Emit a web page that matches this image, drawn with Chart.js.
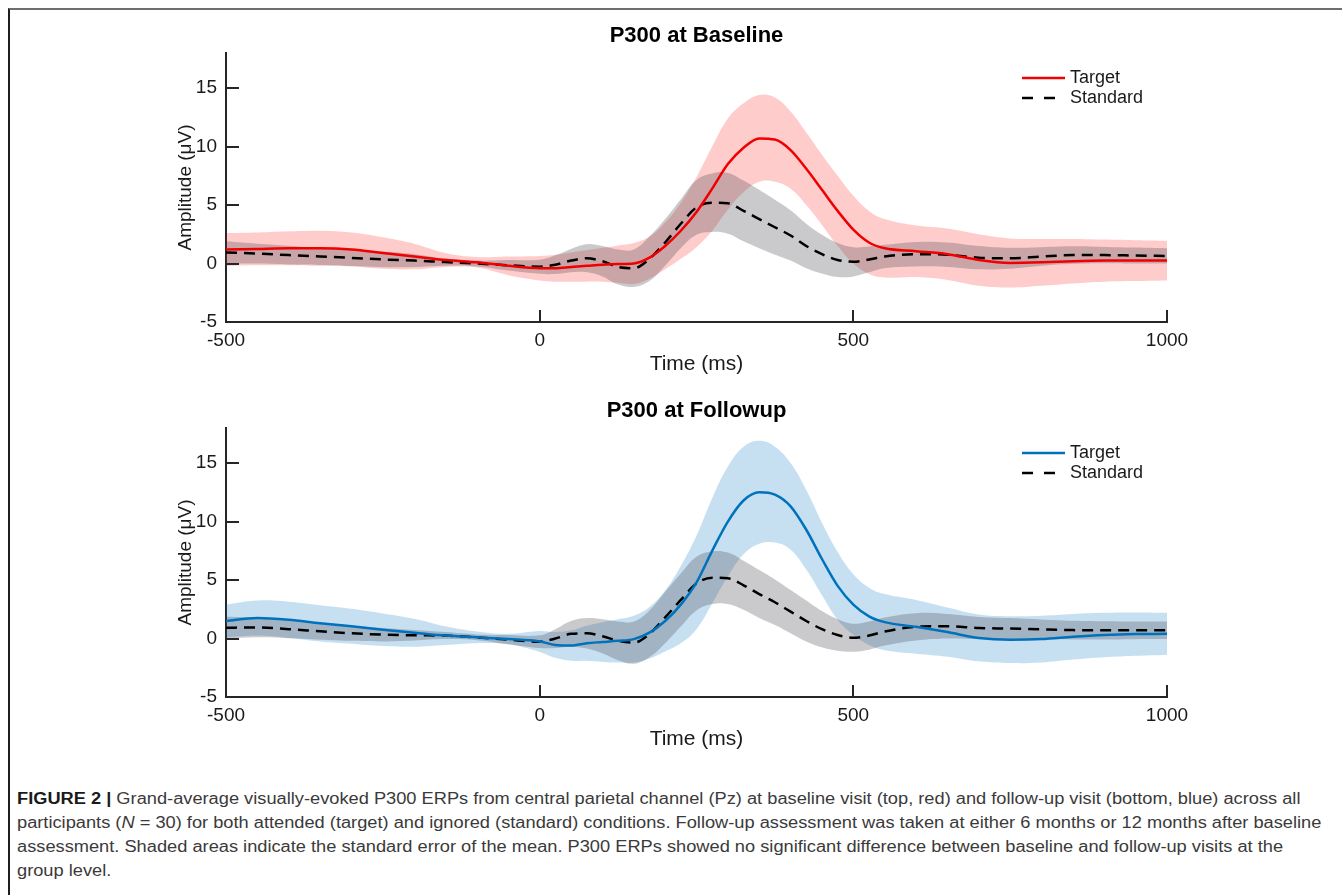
<!DOCTYPE html>
<html>
<head>
<meta charset="utf-8">
<script src="https://cdn.jsdelivr.net/npm/chart.js@4.4.1/dist/chart.umd.min.js"></script>
<style>
  body { margin: 0; background: #fff; width: 1342px; height: 895px; overflow: hidden; position: relative; }
  .frame { position: absolute; left: 8px; top: 8px; right: 0; bottom: 0; border-top: 2px solid #6e6e6e; border-left: 2px solid #1e1e1e; }
  canvas { position: absolute; left: 150px; }
  #baseChart { top: 15px; }
  #followChart { top: 390px; }
  .caption { position: absolute; left: 17px; top: 787px; font-family: "Liberation Sans", Arial, sans-serif; font-size: 16px; line-height: 24px; color: #3a3a3a; white-space: nowrap; transform: scaleX(1.14); transform-origin: 0 0; }
  .caption b { color: #1a1a1a; }
</style>
</head>
<body>
<div class="frame"></div>
<canvas id="baseChart" width="1050" height="375"></canvas>
<canvas id="followChart" width="1050" height="375"></canvas>
<div class="caption">
  <b>FIGURE 2 |</b> Grand-average visually-evoked P300 ERPs from central parietal channel (Pz) at baseline visit (top, red) and follow-up visit (bottom, blue) across all<br>
  participants (<i>N</i> = 30) for both attended (target) and ignored (standard) conditions. Follow-up assessment was taken at either 6 months or 12 months after baseline<br>
  assessment. Shaded areas indicate the standard error of the mean. P300 ERPs showed no significant difference between baseline and follow-up visits at the<br>
  group level.
</div>
<script>
// time points (ms) and tick values
const times = [-500, -450, -400, -350, -300, -250, -200, -150, -100, -50,
  0, 25, 50, 75, 100, 125, 150, 175, 200, 225,
  250, 275, 300, 325, 350, 375, 400, 425, 450, 475,
  500, 525, 550, 600, 650, 700, 750, 800, 850, 900,
  950, 1000];
const xTicks = [-500, 0, 500, 1000];
const yTicks = [-5, 0, 5, 10, 15];

// baseline visit (uV), mean and standard error
const baseTarget = [1.2, 1.25, 1.3, 1.3, 1.2, 0.9, 0.6, 0.3, 0.1, -0.2,
  -0.4, -0.4, -0.3, -0.2, -0.1, -0.05, 0.0, 0.5, 1.5, 2.8,
  4.4, 6.4, 8.5, 9.9, 10.7, 10.6, 9.7, 8.1, 6.3, 4.5,
  2.9, 1.8, 1.3, 1.05, 0.8, 0.3, 0.05, 0.1, 0.2, 0.25,
  0.25, 0.25];
const baseTargetSE = [1.4, 1.4, 1.45, 1.5, 1.45, 1.35, 1.1, 0.6, 0.45, 0.8,
  1.05, 1.15, 1.25, 1.35, 1.45, 1.6, 1.75, 1.8, 2.0, 2.4,
  3.0, 3.6, 3.9, 3.8, 3.7, 3.6, 3.3, 3.1, 3.0, 3.0,
  2.9, 2.7, 2.5, 2.2, 2.2, 2.2, 2.1, 2.0, 1.9, 1.8,
  1.75, 1.7];
const baseStandard = [0.95, 0.85, 0.72, 0.6, 0.48, 0.35, 0.25, 0.12, 0.0, -0.15,
  -0.27, -0.1, 0.25, 0.45, 0.2, -0.3, -0.4, 0.4, 1.8, 3.4,
  4.8, 5.2, 5.15, 4.5, 3.8, 3.1, 2.4, 1.5, 0.8, 0.3,
  0.15, 0.35, 0.6, 0.8, 0.75, 0.5, 0.45, 0.6, 0.72, 0.72,
  0.68, 0.65];
const baseStandardSE = [0.95, 0.85, 0.8, 0.72, 0.7, 0.67, 0.55, 0.3, 0.25, 0.45,
  0.6, 0.8, 1.0, 1.2, 1.3, 1.5, 1.6, 1.9, 2.0, 2.1,
  2.35, 2.5, 2.6, 2.6, 2.5, 2.35, 2.15, 1.9, 1.65, 1.45,
  1.25, 1.1, 1.0, 1.05, 1.05, 1.0, 0.9, 0.8, 0.75, 0.7,
  0.68, 0.65];

// follow-up visit (uV)
const followTarget = [1.5, 1.75, 1.6, 1.3, 1.05, 0.75, 0.5, 0.25, 0.1, -0.05,
  -0.25, -0.55, -0.6, -0.4, -0.3, -0.2, -0.05, 0.5, 1.5, 2.9,
  4.8, 7.5, 10.0, 11.8, 12.5, 12.3, 11.3, 9.3, 6.8, 4.5,
  2.9, 1.9, 1.4, 1.0, 0.55, 0.05, -0.1, -0.05, 0.15, 0.3,
  0.38, 0.4];
const followTargetSE = [1.4, 1.5, 1.55, 1.55, 1.5, 1.4, 1.2, 0.8, 0.5, 0.45,
  0.9, 1.1, 1.3, 1.5, 1.7, 1.85, 2.0, 2.2, 2.6, 3.3,
  4.0, 4.5, 4.7, 4.6, 4.4, 4.1, 3.7, 3.4, 3.1, 2.9,
  2.6, 2.45, 2.4, 2.3, 2.1, 2.0, 2.0, 2.0, 1.95, 1.9,
  1.85, 1.8];
const followStandard = [0.92, 0.95, 0.8, 0.62, 0.45, 0.33, 0.28, 0.25, 0.1, -0.1,
  -0.27, 0.0, 0.4, 0.45, 0.2, -0.2, -0.35, 0.4, 1.8, 3.3,
  4.7, 5.2, 5.15, 4.55, 3.8, 3.1, 2.3, 1.5, 0.8, 0.3,
  0.07, 0.25, 0.6, 1.0, 1.05, 0.9, 0.85, 0.78, 0.72, 0.7,
  0.7, 0.7];
const followStandardSE = [0.95, 0.85, 0.78, 0.72, 0.65, 0.58, 0.45, 0.3, 0.25, 0.4,
  0.55, 0.8, 1.1, 1.3, 1.45, 1.65, 1.8, 2.0, 2.2, 2.27,
  2.3, 2.25, 2.2, 2.1, 2.05, 1.95, 1.85, 1.75, 1.55, 1.35,
  1.2, 1.2, 1.2, 1.17, 1.05, 0.95, 0.9, 0.85, 0.8, 0.78,
  0.76, 0.75];

Chart.defaults.font.family = '"Liberation Sans", Arial, Helvetica, sans-serif';
Chart.defaults.color = '#262626';

const AXIS = '#262626';

const toPoints = (vals) => times.map((t, i) => ({ x: t, y: vals[i] }));

// MATLAB style inward tick marks
const inwardTicks = {
  id: 'inwardTicks',
  afterDraw(chart) {
    const { ctx, chartArea, scales } = chart;
    ctx.save();
    ctx.strokeStyle = AXIS;
    ctx.lineWidth = 2;
    ctx.beginPath();
    scales.x.ticks.forEach(t => {
      const px = Math.round(scales.x.getPixelForValue(t.value));
      ctx.moveTo(px, chartArea.bottom);
      ctx.lineTo(px, chartArea.bottom - 12);
    });
    scales.y.ticks.forEach(t => {
      const py = Math.round(scales.y.getPixelForValue(t.value));
      ctx.moveTo(chartArea.left, py);
      ctx.lineTo(chartArea.left + 13, py);
    });
    ctx.stroke();
    ctx.restore();
  }
};

// legend box in the upper right corner of the axes
const lineLegend = {
  id: 'lineLegend',
  afterDatasetsDraw(chart) {
    const { ctx, chartArea } = chart;
    const items = chart.data.datasets.filter(d => d.inLegend);
    const x = chartArea.right - 145;
    items.forEach((d, i) => {
      const y = chartArea.top + 25 + i * 20;
      ctx.save();
      ctx.strokeStyle = d.borderColor;
      ctx.lineWidth = d.borderWidth;
      ctx.setLineDash(d.borderDash ? [11, 11] : []);
      ctx.beginPath();
      ctx.moveTo(x, y);
      ctx.lineTo(x + 43, y);
      ctx.stroke();
      ctx.setLineDash([]);
      ctx.fillStyle = '#1a1a1a';
      ctx.font = '18px "Liberation Sans", Arial, sans-serif';
      ctx.textBaseline = 'middle';
      ctx.fillText(d.label, x + 48, y);
      ctx.restore();
    });
  }
};

function makeChart(id, title, lineColor, bandColor, target, targetSE, standard, standardSE) {
  const up = (m, s) => m.map((v, i) => v + s[i]);
  const down = (m, s) => m.map((v, i) => v - s[i]);
  const band = { borderWidth: 0, pointRadius: 0, tension: 0.4 };

  new Chart(document.getElementById(id), {
    type: 'line',
    data: {
      datasets: [
        { label: 'Target', inLegend: true, data: toPoints(target), borderColor: lineColor, borderWidth: 2.5,
          pointRadius: 0, fill: false, cubicInterpolationMode: 'monotone' },
        { label: 'Standard', inLegend: true, data: toPoints(standard), borderColor: '#000', borderWidth: 2.5,
          borderDash: [11, 7], pointRadius: 0, fill: false, cubicInterpolationMode: 'monotone' },
        // standard error bands
        { ...band, data: toPoints(up(standard, standardSE)), backgroundColor: 'rgba(60,60,70,0.27)', fill: 3 },
        { ...band, data: toPoints(down(standard, standardSE)), fill: false },
        { ...band, data: toPoints(up(target, targetSE)), backgroundColor: bandColor, fill: 5 },
        { ...band, data: toPoints(down(target, targetSE)), fill: false }
      ]
    },
    options: {
      responsive: false,
      animation: false,
      devicePixelRatio: 1,
      layout: { padding: { left: 0, right: 33, top: 0, bottom: 0 } },
      plugins: {
        legend: { display: false },
        tooltip: { enabled: false },
        title: {
          display: true,
          text: title,
          fullSize: false,
          color: '#000',
          font: { size: 22, weight: 'bold' },
          padding: { top: 8, bottom: 3.6 }
        }
      },
      scales: {
        x: {
          type: 'linear',
          min: -500,
          max: 1000,
          afterBuildTicks: (s) => { s.ticks = xTicks.map(v => ({ value: v })); },
          afterFit: (s) => { s.height = 68; },
          grid: { display: false, drawTicks: false },
          border: { display: true, color: AXIS, width: 2 },
          ticks: { padding: 7, font: { size: 19 }, color: '#1a1a1a', maxRotation: 0, callback: (v) => String(v) },
          title: { display: true, text: 'Time (ms)', font: { size: 21 }, color: '#1a1a1a', padding: { top: 0, bottom: 13 } }
        },
        y: {
          min: -5,
          max: 18,
          afterBuildTicks: (s) => { s.ticks = yTicks.map(v => ({ value: v })); },
          afterFit: (s) => { s.width = 76; },
          grid: { display: false, drawTicks: false },
          border: { display: true, color: AXIS, width: 2 },
          ticks: { padding: 9, font: { size: 19 }, color: '#1a1a1a', callback: (v) => String(v) },
          title: { display: true, text: 'Amplitude (μV)', font: { size: 19 }, color: '#1a1a1a', padding: { top: 24, bottom: 0 } }
        }
      }
    },
    plugins: [inwardTicks, lineLegend]
  });
}

makeChart('baseChart', 'P300 at Baseline', '#f00000', 'rgba(255,0,0,0.2)',
  baseTarget, baseTargetSE, baseStandard, baseStandardSE);
makeChart('followChart', 'P300 at Followup', '#0072bd', 'rgba(0,114,189,0.22)',
  followTarget, followTargetSE, followStandard, followStandardSE);
</script>
</body>
</html>
